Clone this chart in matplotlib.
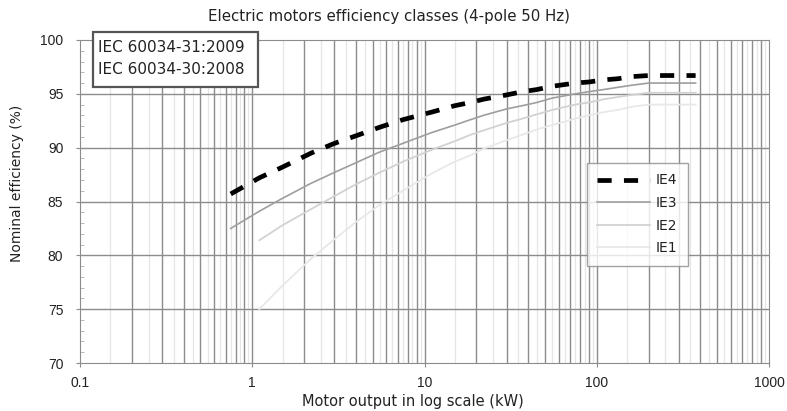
import numpy as np
import matplotlib.pyplot as plt
from matplotlib.patches import Rectangle
from matplotlib.ticker import FixedLocator, NullFormatter

plt.rcParams['font.family'] = ['DejaVu Sans']

# IEC 60034-30 rated powers (kW) and nominal efficiencies (%), 4-pole 50 Hz
power = [0.75, 1.1, 1.5, 2.2, 3, 4, 5.5, 7.5, 11, 15, 18.5, 22, 30, 37, 45,
         55, 75, 90, 110, 132, 160, 200, 250, 315, 355, 375]
ie4 = [85.7, 87.2, 88.2, 89.5, 90.4, 91.1, 91.9, 92.6, 93.3, 93.9, 94.2, 94.5,
       94.9, 95.2, 95.4, 95.7, 96.0, 96.1, 96.3, 96.4, 96.6, 96.7, 96.7, 96.7, 96.7, 96.7]
ie3 = [82.5, 84.1, 85.3, 86.7, 87.7, 88.6, 89.6, 90.4, 91.4, 92.1, 92.6, 93.0,
       93.6, 93.9, 94.2, 94.6, 95.0, 95.2, 95.4, 95.6, 95.8, 96.0, 96.0, 96.0, 96.0, 96.0]
ie2 = [79.6, 81.4, 82.8, 84.3, 85.5, 86.6, 87.7, 88.7, 89.8, 90.6, 91.2, 91.6,
       92.3, 92.7, 93.1, 93.5, 94.0, 94.2, 94.5, 94.7, 94.9, 95.1, 95.1, 95.1, 95.1, 95.1]
ie1 = [72.1, 75.0, 77.2, 79.7, 81.5, 83.1, 84.7, 86.0, 87.6, 88.7, 89.3, 89.9,
       90.7, 91.2, 91.7, 92.1, 92.7, 93.0, 93.3, 93.5, 93.8, 94.0, 94.0, 94.0, 94.0, 94.0]

title = "Electric motors efficiency classes (4-pole 50 Hz)"
standards = ["IEC 60034-31:2009", "IEC 60034-30:2008"]
xticks = [0.1, 1, 10, 100, 1000]
xticklabels = ['0.1', '1', '10', '100', '1000']

W, H = 787, 411
fig = plt.figure(figsize=(W / 100, H / 100), dpi=100)
ax = fig.add_axes([80 / W, 1 - 363 / H, 689 / W, 323 / H])

ax.set_xscale('log')
ax.set_xlim(0.1, 1000)
ax.set_ylim(70, 100)

# grid: faint half steps, gray 2..9 and decades, 5 % steps
decades = [0.1, 1, 10, 100]
half = [d * (k + 0.5) for d in decades for k in range(1, 10)]
whole = [d * k for d in decades for k in range(2, 10)]
for x in half:
    ax.axvline(x, color='#e6e6e6', lw=0.9, zorder=0)
for x in whole + [1, 10, 100]:
    ax.axvline(x, color='#8c8c8c', lw=1.0, zorder=0)
for y in range(75, 100, 5):
    ax.axhline(y, color='#8c8c8c', lw=1.0, zorder=0)

s = 1  # IE1 / IE2 are not visible below 1.1 kW
ax.plot(power[s:], ie1[s:], color='#e8e8e8', lw=1.3, label='IE1', zorder=2)
ax.plot(power[s:], ie2[s:], color='#d2d2d2', lw=1.3, label='IE2', zorder=2)
ax.plot(power, ie3, color='#9e9e9e', lw=1.2, label='IE3', zorder=3)
ax.plot(power, ie4, color='black', lw=3.4, ls=(0, (3, 2.6)), label='IE4', zorder=4)

ax.set_xticks(xticks)
ax.set_xticklabels(xticklabels)
ax.xaxis.set_minor_formatter(NullFormatter())
ax.set_yticks(range(70, 101, 5))
ax.yaxis.set_minor_locator(FixedLocator(range(70, 101)))
for lab in ax.get_xticklabels() + ax.get_yticklabels():
    lab.set_fontfamily('Liberation Sans')
ax.tick_params(axis='both', which='major', labelsize=10, color='#8c8c8c',
               length=3, colors='#222222')
ax.tick_params(axis='y', which='major', pad=9)
ax.tick_params(axis='x', which='major', pad=6)
ax.tick_params(axis='y', which='minor', direction='in', length=3, color='#b0b0b0')
ax.tick_params(axis='x', which='minor', length=0)
for sp in ax.spines.values():
    sp.set_color('#8c8c8c')

fig.text(413 / W, 1 - 401 / H, "Motor output in log scale (kW)", ha='center',
         va='center', fontsize=10.5, color='#222222')
fig.text(17 / W, 1 - 183 / H, "Nominal efficiency (%)", ha='center',
         va='center', rotation=90, fontsize=10, color='#222222')
fig.text(389 / W, 1 - 17 / H, title, ha='center', va='center', fontsize=10.8,
         color='#222222')

h, l = ax.get_legend_handles_labels()
leg = ax.legend(h[::-1], l[::-1], loc='upper left',
                bbox_to_anchor=((587 - 80) / 689, (363 - 163) / 323),
                fontsize=10, handlelength=3.8, handletextpad=0.4,
                frameon=True, fancybox=False, edgecolor='#8c8c8c',
                borderpad=0.75, labelspacing=0.62, borderaxespad=0)
leg.get_frame().set_linewidth(1.0)
for t in leg.get_texts():
    t.set_color('#222222')

fig.patches.append(Rectangle((93 / W, 1 - 87 / H), 165 / W, 55 / H,
                             transform=fig.transFigure, fc='white',
                             ec='#555555', lw=1.6, zorder=5))
for i, txt in enumerate(standards):
    fig.text(98 / W, 1 - (47 + 23 * i) / H, txt, ha='left', va='center',
             fontsize=11, color='#222222', zorder=6)

fig.savefig('out.png', dpi=100)
